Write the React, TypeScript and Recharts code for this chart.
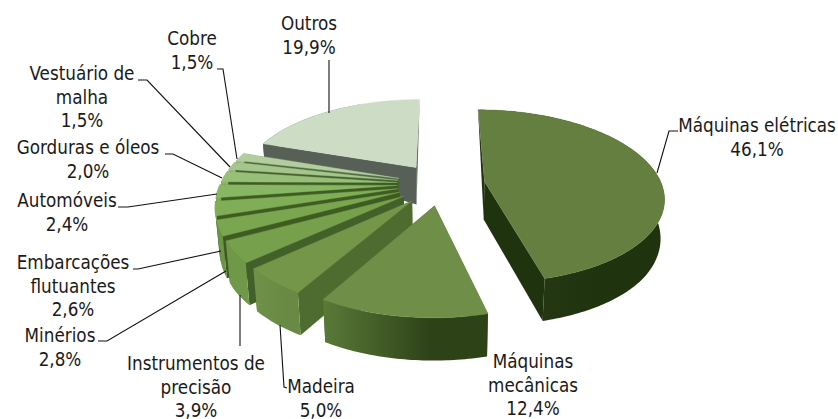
import React from "react";
import { PieChart, Pie } from "recharts";

const categories = [
  "Máquinas elétricas", "Máquinas mecânicas", "Madeira", "Instrumentos de precisão", "Minérios",
  "Embarcações flutuantes", "Automóveis", "Gorduras e óleos", "Vestuário de malha", "Cobre", "Outros",
];
const shares = [46.1, 12.4, 5.0, 3.9, 2.8, 2.6, 2.4, 2.0, 1.5, 1.5, 19.9];
const labelLines = [
  ["Máquinas elétricas"], ["Máquinas", "mecânicas"], ["Madeira"], ["Instrumentos de", "precisão"], ["Minérios"],
  ["Embarcações", "flutuantes"], ["Automóveis"], ["Gorduras e óleos"], ["Vestuário de", "malha"], ["Cobre"], ["Outros"],
];

// [top face, cut face, wall left, wall right]
const palette = [
  ["#647f40", "#20330f", "#2a3c18", "#20330f"],
  ["#6f8e48", "#4f6c30", "#5a7a38", "#2e4218"],
  ["#739649", "#4f6c30", "#6f9249", "#688a44"],
  ["#76a04b", "#41602a", "#6f9848", "#6f9848"],
  ["#7aa650", "#3e5c22", "#6c9444", "#6c9444"],
  ["#80ae56", "#3e5c22", "#76a04c", "#76a04c"],
  ["#88b763", "#3e5c22", "#80aa58", "#80aa58"],
  ["#97bf78", "#3e5c22", "#8cb26a", "#8cb26a"],
  ["#a4c68c", "#466030", "#98ba80", "#98ba80"],
  ["#b2ce9e", "#506640", "#a4c08e", "#a4c08e"],
  ["#cddcc4", "#566056", "#566056", "#566056"],
];

// label text anchor + leader polyline, in the order of categories
const labelBoxes = [
  { x: 757, y: 132, lead: "657,173 669,131 678,131" },
  { x: 533, y: 368, lead: "" },
  { x: 321, y: 393, lead: "280,325 284,387 287,388" },
  { x: 196, y: 370, lead: "240,295 240,346" },
  { x: 60, y: 342, lead: "226,271 107,341 98,341" },
  { x: 73, y: 269, lead: "221,251 138,269 133,269" },
  { x: 67, y: 207, lead: "217,194 128,207 118,207" },
  { x: 88, y: 154, lead: "222,178 173,154 165,154" },
  { x: 82, y: 80, lead: "230,167 147,80 138,80" },
  { x: 192, y: 45, lead: "237,159 223,69 217,69" },
  { x: 309, y: 30, lead: "329,113 329,60" },
];

const pieData = categories
  .map((name, i) => ({ name, value: shares[i], idx: i }))
  .reverse();

const EXPLODE = 44;
const K = 0.17;
const KY = 0.478;
const SHRINK = 0.018;
const DEPTH_STOPS = [[-250, 43], [-100, 42], [5, 38], [36, 37], [94, 15], [150, 3], [200, 0]];

function depthAt(wy: number) {
  const s = DEPTH_STOPS;
  if (wy <= s[0][0]) return s[0][1];
  for (let i = 1; i < s.length; i++) {
    if (wy <= s[i][0]) {
      const t = (wy - s[i - 1][0]) / (s[i][0] - s[i - 1][0]);
      return s[i - 1][1] + t * (s[i][1] - s[i - 1][1]);
    }
  }
  return 0;
}

function Slice3D(props: any) {
  const { cx, cy, outerRadius: R, startAngle, endAngle, payload } = props;
  const idx = payload?.idx ?? props.idx;
  const rad = (d: number) => (d * Math.PI) / 180;
  const mid = rad((startAngle + endAngle) / 2);
  const ox = EXPLODE * Math.cos(mid);
  const oy = EXPLODE * Math.sin(mid);
  const top = (wx: number, wy: number) => {
    const p = 1 / (1 + (K * wy) / R);
    return [cx + wx * p, cy - wy * KY * p];
  };
  const bottom = (wx: number, wy: number) => {
    const q = top(wx, wy);
    const d = depthAt(wy);
    return [cx + (q[0] - cx) * (1 - (SHRINK * d) / 40), q[1] + d];
  };
  const a0 = Math.min(startAngle, endAngle);
  const a1 = Math.max(startAngle, endAngle);
  const steps = Math.max(2, Math.ceil(a1 - a0));
  const arc: number[][] = [];
  for (let i = 0; i <= steps; i++) {
    const a = rad(a0 + ((a1 - a0) * i) / steps);
    arc.push([ox + R * Math.cos(a), oy + R * Math.sin(a)]);
  }
  const path = (pts: number[][]) =>
    "M" + pts.map((q) => q[0].toFixed(2) + "," + q[1].toFixed(2)).join("L") + "Z";
  const first = arc[0];
  const last = arc[arc.length - 1];
  const cutA = path([top(ox, oy), top(first[0], first[1]), bottom(first[0], first[1]), bottom(ox, oy)]);
  const cutB = path([top(ox, oy), top(last[0], last[1]), bottom(last[0], last[1]), bottom(ox, oy)]);
  const wall = path([
    ...arc.map((q) => top(q[0], q[1])),
    ...arc.slice().reverse().map((q) => bottom(q[0], q[1])),
  ]);
  const face = path([top(ox, oy), ...arc.map((q) => top(q[0], q[1]))]);
  const [cTop, cCut, cL, cR] = palette[idx];
  const gid = "wallGrad" + idx;
  return (
    <g>
      <defs>
        <linearGradient id={gid} x1="0" y1="0" x2="1" y2="0">
          <stop offset="0" stopColor={cL} />
          <stop offset="0.65" stopColor={cR} />
          <stop offset="1" stopColor={cR} />
        </linearGradient>
      </defs>
      <path d={cutA} fill={cCut} />
      <path d={cutB} fill={cCut} />
      <path d={wall} fill={"url(#" + gid + ")"} />
      <path d={face} fill={cTop} stroke={cTop} strokeWidth={0.4} />
    </g>
  );
}

function SliceLabel(props: any) {
  const idx = props.payload?.idx ?? props.idx;
  const box = labelBoxes[idx];
  const pct = shares[idx].toFixed(1).replace(".", ",") + "%";
  const lines = [...labelLines[idx], pct];
  return (
    <g>
      {box.lead ? <polyline points={box.lead} fill="none" stroke="#111" strokeWidth={1.1} /> : null}
      <text
        x={box.x}
        y={box.y}
        textAnchor="middle"
        fontFamily="'DejaVu Sans Condensed', 'DejaVu Sans', sans-serif"
        fontSize={18.7}
        fill="#1a1a1a"
      >
        {lines.map((l, i) => (
          <tspan key={i} x={box.x} dy={i === 0 ? 0 : 23.7}>
            {l}
          </tspan>
        ))}
      </text>
    </g>
  );
}

export default function App() {
  return (
    <div style={{ position: "absolute", left: 0, top: 0, width: 838, height: 419, overflow: "hidden", background: "#fff" }}>
      <PieChart width={838} height={419} margin={{ top: 0, right: 0, bottom: 0, left: 0 }}>
        <Pie
          data={pieData}
          dataKey="value"
          nameKey="name"
          cx={441}
          cy={184}
          innerRadius={0}
          outerRadius={177}
          startAngle={90}
          endAngle={450}
          paddingAngle={0}
          stroke="none"
          isAnimationActive={false}
          shape={(p: any) => <Slice3D {...p} />}
          label={(p: any) => <SliceLabel {...p} />}
          labelLine={false}
        />
      </PieChart>
    </div>
  );
}
